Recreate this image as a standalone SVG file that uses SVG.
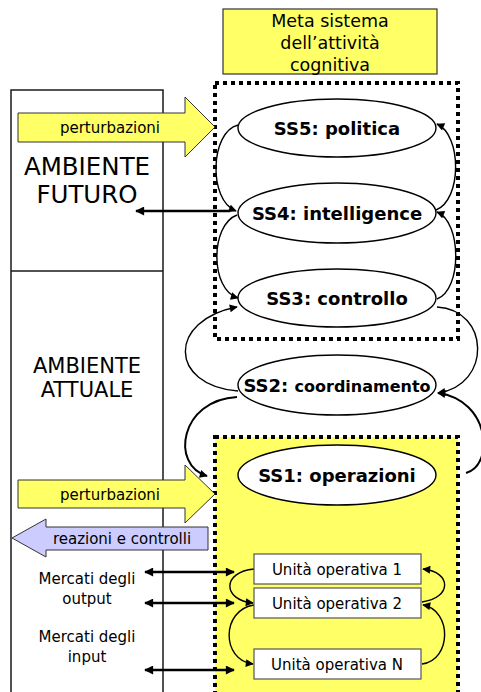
<svg xmlns="http://www.w3.org/2000/svg" width="481" height="692" viewBox="0 0 481 692">
  <style>
    .frame { fill: none; stroke: #1a1a1a; stroke-width: 1.5; }
    .dotted { stroke: #000; stroke-width: 4; stroke-dasharray: 4 4; }
    .ell { fill: #fff; stroke: #000; stroke-width: 1.4; }
    .unit { fill: #fff; stroke: #555; stroke-width: 1.2; }
    .yarrow { fill: #ffff66; stroke: #333; stroke-width: 1; }
    .barrow { fill: #ccccff; stroke: #333; stroke-width: 1; }
    .curve { fill: none; stroke: #000; stroke-width: 1.4; marker-end: url(#head); }
    .curve.thick { stroke-width: 2; }
    .link { fill: none; stroke: #000; stroke-width: 2.5; }
    text { font-family: "DejaVu Sans", Verdana, sans-serif; fill: #000; text-anchor: middle; }
    .ss { font-weight: bold; font-size: 18px; }
    .lbl { font-size: 15px; }
    .env { font-size: 24.5px; }
    .env2 { font-size: 21px; }
    .title { font-size: 17.5px; }
  </style>
  <defs>
    <marker id="head" viewBox="0 0 10 10" refX="9" refY="5" markerWidth="9" markerHeight="8" markerUnits="userSpaceOnUse" orient="auto">
      <path d="M0,0 L10,5 L0,10 z" fill="#000"/>
    </marker>
    <marker id="bighead" viewBox="0 0 10 10" refX="9" refY="5" markerWidth="11" markerHeight="9" markerUnits="userSpaceOnUse" orient="auto-start-reverse">
      <path d="M0,0 L10,5 L0,10 z" fill="#000"/>
    </marker>
  </defs>

  <!-- environment frame -->
  <g id="environment">
    <path class="frame" d="M11,700 V90 H163 V700 M11,271 H163"/>
    <text class="env" x="87" y="175">AMBIENTE</text>
    <text class="env" x="87" y="203">FUTURO</text>
    <text class="env2" x="87" y="373">AMBIENTE</text>
    <text class="env2" x="87" y="397">ATTUALE</text>
  </g>

  <!-- meta system title -->
  <g id="meta">
    <rect x="223" y="9" width="214" height="65" fill="#ffff66" stroke="#333" stroke-width="1.2"/>
    <text class="title" x="330" y="27">Meta sistema</text>
    <text class="title" x="330" y="49">dell’attività</text>
    <text class="title" x="330" y="71">cognitiva</text>
  </g>

  <!-- operational system area -->
  <g id="operational-area">
    <rect class="dotted" x="215" y="437" width="243" height="270" fill="#ffff66"/>
  </g>

  <!-- connectors -->
  <g id="connectors">
    <path class="curve" d="M238,125 C210,132 208,200 236,211"/>
    <path class="curve" d="M436,210 C462,200 462,135 437,124"/>
    <path class="curve" d="M237,215 C210,225 210,290 238,298"/>
    <path class="curve" d="M437,299 C462,290 462,222 437,212"/>
    <path class="curve" d="M437,307 C490,310 492,385 438,393"/>
    <path class="curve thick" d="M466,473 C495,465 490,400 438,393"/>
    <path class="curve" d="M238,391 C168,385 168,320 237,307"/>
    <path class="curve thick" d="M237,397 C180,400 170,465 207,476"/>
    <path class="curve" d="M254,569 C222,572 222,600 253,603"/>
    <path class="curve" d="M254,605 C221,610 221,660 253,664"/>
    <path class="curve" d="M422,602 C452,598 452,572 423,569"/>
    <path class="curve" d="M422,664 C452,660 452,610 423,605"/>
    <path class="link" d="M230,211 H136" marker-end="url(#bighead)"/>
    <path class="link" d="M145,572 H234" marker-start="url(#bighead)" marker-end="url(#bighead)"/>
    <path class="link" d="M145,603 H234" marker-start="url(#bighead)" marker-end="url(#bighead)"/>
    <path class="link" d="M145,670 H234" marker-start="url(#bighead)" marker-end="url(#bighead)"/>
  </g>

  <!-- cognitive meta system boundary -->
  <g id="meta-boundary">
    <rect class="dotted" x="215" y="83" width="243" height="256" fill="none"/>
  </g>

  <!-- subsystems -->
  <g id="ss5">
    <ellipse class="ell" cx="337" cy="128" rx="99" ry="29"/>
    <text class="ss" x="337" y="135">SS5: politica</text>
  </g>
  <g id="ss4">
    <ellipse class="ell" cx="337" cy="213" rx="99" ry="30"/>
    <text class="ss" x="337" y="220">SS4: intelligence</text>
  </g>
  <g id="ss3">
    <ellipse class="ell" cx="337" cy="298" rx="99" ry="29"/>
    <text class="ss" x="337" y="305">SS3: controllo</text>
  </g>
  <g id="ss2">
    <ellipse class="ell" cx="337" cy="385" rx="99" ry="30"/>
    <text class="ss" x="337" y="392">SS2: <tspan style="font-size:16px">coordinamento</tspan></text>
  </g>
  <g id="ss1">
    <ellipse class="ell" cx="337" cy="475" rx="99" ry="30"/>
    <text class="ss" x="337" y="482">SS1: operazioni</text>
  </g>

  <!-- operational units -->
  <g id="uo1">
    <rect class="unit" x="254" y="554" width="167" height="30"/>
    <text class="lbl" x="337" y="575">Unità operativa 1</text>
  </g>
  <g id="uo2">
    <rect class="unit" x="254" y="588" width="167" height="30"/>
    <text class="lbl" x="337" y="609">Unità operativa 2</text>
  </g>
  <g id="uon">
    <rect class="unit" x="254" y="649" width="167" height="30"/>
    <text class="lbl" x="337" y="670">Unità operativa N</text>
  </g>

  <!-- flows with the environment -->
  <g id="perturbazioni-futuro">
    <polygon class="yarrow" points="18,113 185,113 185,97 215,127 185,157 185,142 18,142"/>
    <text class="lbl" x="110" y="133">perturbazioni</text>
  </g>
  <g id="perturbazioni-attuale">
    <polygon class="yarrow" points="18,480 185,480 185,465 215,494 185,523 185,508 18,508"/>
    <text class="lbl" x="110" y="500">perturbazioni</text>
  </g>
  <g id="reazioni">
    <polygon class="barrow" points="208,527 46,527 46,519 12,538 46,557 46,550 208,550"/>
    <text class="lbl" x="122" y="544">reazioni e controlli</text>
  </g>

  <!-- markets -->
  <g id="mercati-output">
    <text class="lbl" x="87" y="584">Mercati degli</text>
    <text class="lbl" x="87" y="604">output</text>
  </g>
  <g id="mercati-input">
    <text class="lbl" x="87" y="642">Mercati degli</text>
    <text class="lbl" x="87" y="662">input</text>
  </g>
</svg>
